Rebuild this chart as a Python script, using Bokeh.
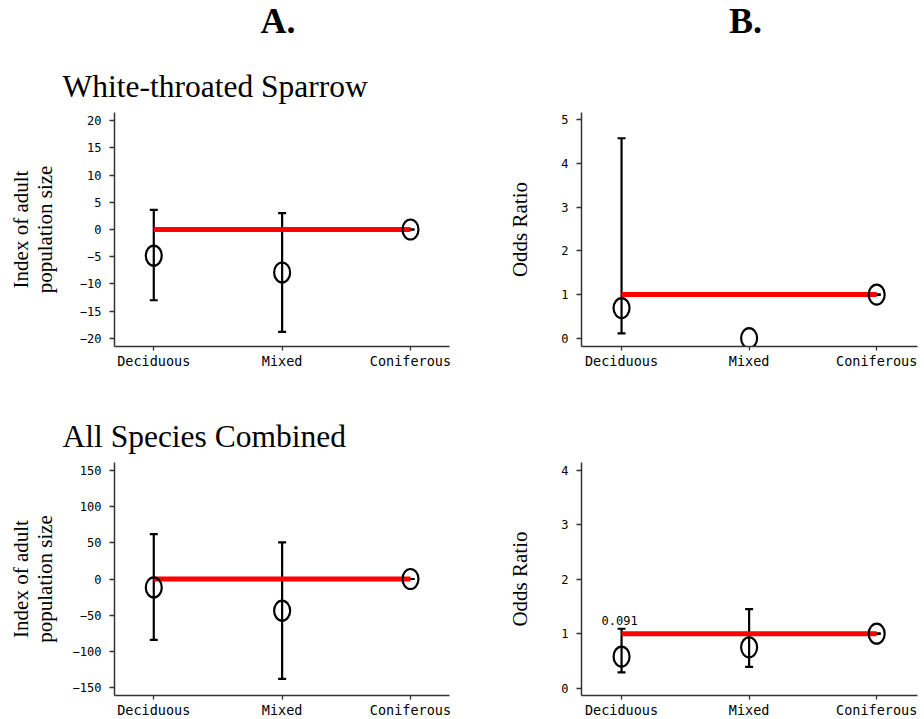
from bokeh.plotting import figure
from bokeh.models import Range1d, FixedTicker, Whisker, TeeHead, ColumnDataSource, Label
from bokeh.layouts import column, row
from bokeh.embed import file_html
from bokeh.resources import INLINE

# ---------------- data ----------------
categories = ["Deciduous", "Mixed", "Coniferous"]

# A. Index of adult population size
wts_index = [-4.8, -7.9, 0.0]
wts_index_lower = [-13.0, -18.8, 0.0]
wts_index_upper = [3.6, 3.0, 0.0]

all_index = [-11.6, -43.8, 0.0]
all_index_lower = [-84.0, -138.0, 0.0]
all_index_upper = [62.0, 50.5, 0.0]

# B. Odds ratio
wts_odds = [0.69, 0.0, 1.0]
wts_odds_lower = [0.11, 1.0, 1.0]
wts_odds_upper = [4.58, 1.0, 1.0]

all_odds = [0.58, 0.75, 1.0]
all_odds_lower = [0.29, 0.39, 1.0]
all_odds_upper = [1.09, 1.45, 1.0]

index_reference = 0.0
odds_reference = 1.0

index_ticks_wts = [-20, -15, -10, -5, 0, 5, 10, 15, 20]
index_ticks_all = [-150, -100, -50, 0, 50, 100, 150]
odds_ticks_wts = [0, 1, 2, 3, 4, 5]
odds_ticks_all = [0, 1, 2, 3, 4]

row_titles = ["White-throated Sparrow", "All Species Combined"]
column_titles = ["A.", "B."]
index_label = "Index of adult\npopulation size"
odds_label = "Odds Ratio"
pvalue_text = "0.091"

SERIF = "Liberation Serif"
MONO = "DejaVu Sans Mono"
W = 924


def header(height):
    h = figure(width=W, height=height, x_range=Range1d(0, W), y_range=Range1d(height, 0),
               min_border=0, output_backend="svg", toolbar_location=None, tools="",
               x_axis_location=None, y_axis_location=None)
    h.outline_line_color = None
    h.grid.visible = False
    h.background_fill_color = "white"
    h.border_fill_color = "white"
    return h


def panel(vals, lower, upper, ref, yr, ticks, ylabel, xr,
          fw, fh, bl, br, bt, bb, label_standoff):
    p = figure(frame_width=fw, frame_height=fh,
               min_border_left=bl, min_border_right=br,
               min_border_top=bt, min_border_bottom=bb,
               x_range=Range1d(*xr), y_range=Range1d(*yr),
               output_backend="svg", toolbar_location=None, tools="")
    p.outline_line_color = None
    p.grid.visible = False
    p.background_fill_color = "white"
    p.border_fill_color = "white"

    xs = list(range(len(categories)))

    # axes
    p.xaxis.ticker = FixedTicker(ticks=xs)
    p.xaxis.major_label_overrides = {i: c for i, c in zip(xs, categories)}
    p.yaxis.ticker = FixedTicker(ticks=ticks)
    for ax in (p.xaxis, p.yaxis):
        ax.axis_line_color = "#333333"
        ax.axis_line_width = 1.5
        ax.major_tick_line_color = "#333333"
        ax.major_tick_line_width = 1.3
        ax.major_tick_in = 0
        ax.minor_tick_line_color = None
        ax.major_label_text_color = "black"
        ax.major_label_text_font = MONO
    p.xaxis.major_tick_out = 4
    p.xaxis.major_label_standoff = 2
    p.xaxis.major_label_text_font_size = "13.5px"
    p.yaxis.major_tick_out = 5
    p.yaxis.major_label_standoff = 8
    p.yaxis.major_label_text_font_size = "12px"
    p.yaxis.axis_label = ylabel
    p.yaxis.axis_label_text_font = SERIF
    p.yaxis.axis_label_text_font_size = "21px"
    p.yaxis.axis_label_text_font_style = "normal"
    p.yaxis.axis_label_text_color = "black"
    p.yaxis.axis_label_text_line_height = 1.0
    p.yaxis.axis_label_standoff = label_standoff

    # reference line
    p.line(x=[xs[0], xs[-1]], y=[ref, ref], line_color="red", line_width=5)

    # error bars
    src = ColumnDataSource(dict(x=xs, lower=lower, upper=upper))
    w = Whisker(base="x", upper="upper", lower="lower", source=src,
                line_color="black", line_width=2.2,
                upper_head=TeeHead(size=8, line_color="black", line_width=2.2),
                lower_head=TeeHead(size=8, line_color="black", line_width=2.2))
    p.add_layout(w)

    # estimates
    p.ellipse(x=xs, y=vals, width=16, height=20,
              width_units="screen", height_units="screen",
              fill_color=None, line_color="black", line_width=2.2)
    return p


LEFT_XR = (-0.306, 2.304)
RIGHT_XR = (-0.314, 2.32)

p1 = panel(wts_index, wts_index_lower, wts_index_upper, index_reference,
           (-21.5, 21.5), index_ticks_wts, index_label, LEFT_XR,
           335, 234, 114, 13, 6, 54, 20)
p2 = panel(wts_odds, wts_odds_lower, wts_odds_upper, odds_reference,
           (-0.19, 5.17), odds_ticks_wts, odds_label, RIGHT_XR,
           336, 234, 119, 7, 6, 54, 26)
p3 = panel(all_index, all_index_lower, all_index_upper, index_reference,
           (-161, 161), index_ticks_all, index_label, LEFT_XR,
           335, 233, 114, 13, 6, 24, 13)
p4 = panel(all_odds, all_odds_lower, all_odds_upper, odds_reference,
           (-0.135, 4.14), odds_ticks_all, odds_label, RIGHT_XR,
           336, 233, 119, 7, 6, 24, 26)

# headers
h1 = header(106)
h1.add_layout(Label(x=277.5, y=20.5, text=column_titles[0], text_font=SERIF,
                    text_font_size="36px", text_font_style="bold", text_align="center",
                    text_baseline="alphabetic", text_color="black"))
h1.add_layout(Label(x=745, y=20.5, text=column_titles[1], text_font=SERIF,
                    text_font_size="36px", text_font_style="bold", text_align="center",
                    text_baseline="alphabetic", text_color="black"))
h1.add_layout(Label(x=62, y=86, text=row_titles[0], text_font=SERIF,
                    text_font_size="31.5px", text_align="left",
                    text_baseline="alphabetic", text_color="black"))
h2 = header(56)
h2.add_layout(Label(x=62, y=36, text=row_titles[1], text_font=SERIF,
                    text_font_size="31.5px", text_align="left",
                    text_baseline="alphabetic", text_color="black"))

# p-value annotation
p4.add_layout(Label(x=0, y=all_odds_upper[0], x_offset=-2, y_offset=8,
                    text=pvalue_text, text_font=MONO, text_font_size="12px",
                    text_align="center", text_baseline="alphabetic", text_color="black"))

layout = column(h1, row(p1, p2), h2, row(p3, p4))
open("out.html", "w").write(file_html(layout, INLINE))
